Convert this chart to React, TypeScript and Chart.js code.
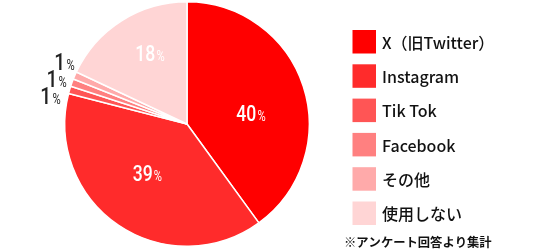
import React, { useEffect, useRef } from "react";
import { Chart, registerables } from "chart.js";

Chart.register(...registerables);

const categories = ["X（旧Twitter）", "Instagram", "Tik Tok", "Facebook", "その他", "使用しない"];
const values = [40, 39, 1, 1, 1, 18];
const colors = ["#ff0000", "#ff2b2b", "#ff5555", "#ff8080", "#ffaaaa", "#ffd5d5"];
const note = "※アンケート回答より集計";

// label placement style: [angle shift in degrees, radius fraction, color]
const labelStyle: [number, number, string][] = [
  [8.7, 0.53, "#ffffff"],
  [4.4, 0.52, "#ffffff"],
  [-4.6, 1.14, "#222222"],
  [-0.6, 1.13, "#222222"],
  [3.8, 1.127, "#222222"],
  [4.7, 0.65, "#ffffff"],
];

const NUM_FONT = "Roboto, 'DejaVu Sans', sans-serif";
const JP_FONT = "'Noto Sans CJK JP', 'Noto Sans', sans-serif";
const SQUEEZE = 0.8;

const labelPlugin = {
  id: "sliceLabels",
  afterDatasetsDraw(chart: any) {
    const ctx = chart.ctx;
    const meta = chart.getDatasetMeta(0);
    meta.data.forEach((arc: any, i: number) => {
      const { x, y, startAngle, endAngle, outerRadius } = arc.getProps(
        ["x", "y", "startAngle", "endAngle", "outerRadius"],
        true
      );
      const [shift, frac, color] = labelStyle[i];
      const mid = (startAngle + endAngle) / 2 + (shift * Math.PI) / 180;
      const cx = x + Math.cos(mid) * outerRadius * frac;
      const cy = y + Math.sin(mid) * outerRadius * frac;
      const small = values[i] < 5;
      const numSize = small ? 24 : 22;
      const pctSize = 14;
      const num = String(values[i]);
      ctx.save();
      ctx.translate(cx, cy);
      ctx.scale(SQUEEZE, 1);
      ctx.fillStyle = color;
      ctx.textBaseline = "alphabetic";
      ctx.textAlign = "left";
      ctx.font = `500 ${numSize}px ${NUM_FONT}`;
      const wn = ctx.measureText(num).width;
      ctx.font = `400 ${pctSize}px ${NUM_FONT}`;
      const wp = ctx.measureText("%").width;
      const gap = 1.5;
      const total = wn + gap + wp;
      const left = -total / 2;
      const base = numSize * 0.355;
      ctx.font = `500 ${numSize}px ${NUM_FONT}`;
      ctx.fillText(num, left, base);
      ctx.font = `400 ${pctSize}px ${NUM_FONT}`;
      ctx.fillText("%", left + wn + gap, base);
      ctx.restore();
    });
  },
};

const legendPlugin = {
  id: "sideLegend",
  afterDraw(chart: any) {
    const ctx = chart.ctx;
    const boxX = 352.5;
    const boxTop = 30;
    const box = 23.5;
    const pitch = 34.3;
    ctx.save();
    categories.forEach((c, i) => {
      const top = boxTop + i * pitch;
      ctx.fillStyle = colors[i];
      ctx.fillRect(boxX, top, box, box);
      ctx.fillStyle = "#111111";
      ctx.font = `500 16px ${JP_FONT}`;
      ctx.textBaseline = "middle";
      ctx.textAlign = "left";
      ctx.fillText(c, 382, top + box / 2 + 1);
    });
    ctx.font = `700 12.3px ${JP_FONT}`;
    ctx.textBaseline = "middle";
    ctx.fillStyle = "#111111";
    ctx.fillText(note, 344, 242.5);
    ctx.restore();
  },
};

export default function App() {
  const ref = useRef<HTMLCanvasElement | null>(null);
  useEffect(() => {
    if (!ref.current) return;
    const chart = new Chart(ref.current, {
      type: "pie",
      data: {
        labels: categories,
        datasets: [
          {
            data: values,
            backgroundColor: colors,
            borderColor: "#ffffff",
            borderWidth: 1.5,
          },
        ],
      },
      options: {
        animation: false,
        responsive: false,
        maintainAspectRatio: false,
        devicePixelRatio: 1,
        layout: { padding: { left: 64, right: 226, top: 0, bottom: 1 } },
        plugins: {
          legend: { display: false },
          tooltip: { enabled: false },
        },
      },
      plugins: [labelPlugin, legendPlugin],
    });
    return () => chart.destroy();
  }, []);
  return (
    <div style={{ position: "fixed", left: 0, top: 0, width: 536, height: 249, background: "#fff" }}>
      <canvas ref={ref} width={536} height={249} style={{ width: 536, height: 249 }} />
    </div>
  );
}
